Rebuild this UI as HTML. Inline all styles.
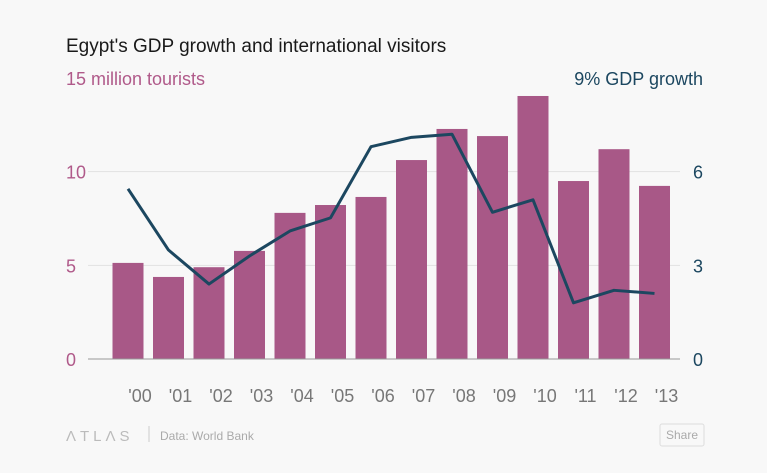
<!DOCTYPE html>
<html><head><meta charset="utf-8"><style>
body{margin:0;background:#f8f8f8;font-family:"Liberation Sans",sans-serif;}
svg{display:block}
</style></head><body>
<svg width="767" height="473">
<rect width="767" height="473" fill="#f8f8f8"/>
<text x="66" y="52" font-size="19" fill="#1a1a1a">Egypt's GDP growth and international visitors</text>
<text x="66" y="85" font-size="18" fill="#b05a8a">15 million tourists</text>
<text x="703" y="85" font-size="18" fill="#1c4760" text-anchor="end">9% GDP growth</text>
<g id="grid"></g><g id="bars"></g><g id="line"></g><g id="axes"></g>
<text x="66" y="441" font-size="15" fill="#bbb" letter-spacing="4">ΛTLΛS</text>
<line x1="149" y1="426" x2="149" y2="442" stroke="#ccc"/>
<text x="160" y="440" font-size="12" fill="#aaa">Data: World Bank</text>
<g><rect x="660" y="424" width="44" height="22" rx="2" fill="#f8f8f8" stroke="#ddd"/><text x="682" y="439" font-size="12" fill="#aaa" text-anchor="middle">Share</text></g>
</svg>
<script>
const years=["'00","'01","'02","'03","'04","'05","'06","'07","'08","'09","'10","'11","'12","'13"];
const tourists=[5.13,4.38,4.9,5.77,7.8,8.22,8.65,10.62,12.28,11.9,14.04,9.5,11.2,9.24];
const gdp=[5.45,3.49,2.4,3.3,4.1,4.52,6.8,7.1,7.2,4.7,5.1,1.8,2.2,2.1];
const leftTicks=[0,5,10];
const rightTicks=[0,3,6];
const NS="http://www.w3.org/2000/svg";
const y0=359,yTop=78;
const yL=v=>y0-(y0-yTop)*v/15;
const yR=v=>y0-(y0-yTop)*v/9;
const x=i=>128+i*40.5;
function mk(t,a,p){const e=document.createElementNS(NS,t);for(const k in a)e.setAttribute(k,a[k]);document.getElementById(p).appendChild(e);return e;}
leftTicks.forEach((v,i)=>{
 if(v>0){const g=mk('line',{x1:88,x2:680,y1:yL(v),y2:yL(v),stroke:'#e2e2e2'},'grid');
 
 }
 const t=mk('text',{x:66,y:yL(v)+7,'font-size':18,fill:'#b05a8a'},'axes');t.textContent=v;
 
 
});
rightTicks.forEach(v=>{
 const t=mk('text',{x:703,y:yR(v)+7,'font-size':18,fill:'#1c4760','text-anchor':'end'},'axes');t.textContent=v;
 
 
});
tourists.forEach((v,i)=>{
 const r=mk('rect',{x:x(i)-15.5,y:yL(v),width:31,height:y0-yL(v),fill:'#a85887'},'bars');
 
 
 const t=mk('text',{x:x(i)+12,y:402,'font-size':18,fill:'#777','text-anchor':'middle'},'axes');t.textContent=years[i];
 
 
});
const base=mk('line',{x1:88,x2:680,y1:y0,y2:y0,stroke:'#999'},'axes');


const l=mk('polyline',{points:gdp.map((v,i)=>x(i)+','+yR(v)).join(' '),fill:'none',stroke:'#1c4760','stroke-width':3,'stroke-linejoin':'round'},'line');


</script>
</body></html>
